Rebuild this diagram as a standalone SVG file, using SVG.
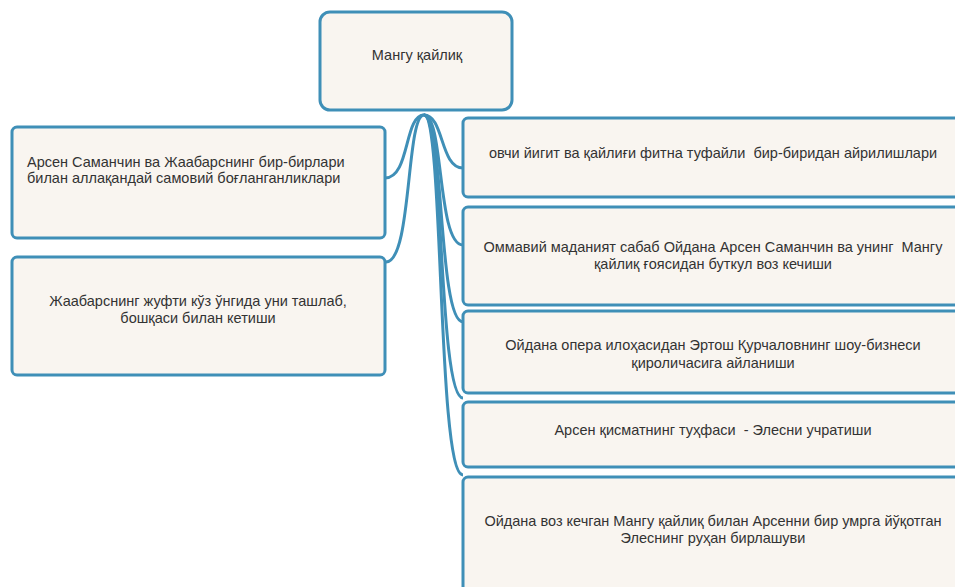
<svg xmlns="http://www.w3.org/2000/svg" width="955" height="587" viewBox="0 0 955 587">
<style>
.box{fill:#f9f5f0;stroke:#3f8fb7;stroke-width:3}
.c{fill:none;stroke:#3f8fb7;stroke-width:3}
text{font-family:"Liberation Sans",Arial,sans-serif;font-size:14.5px;fill:#333;white-space:pre}
.m{text-anchor:middle}
</style>
<rect width="955" height="587" fill="#fff"/>
<g id="connectors">
<path class="c" d="M424,115 C404,115 410,178 385,178"/>
<path class="c" d="M424,115 C406,115 412,262 386,262"/>
<path class="c" d="M424,115 C444,115 440,168 463,168"/>
<path class="c" d="M424,115 C444,115 437,245 463,245"/>
<path class="c" d="M424,115 C444,115 438,322 463,322"/>
<path class="c" d="M424,115 C444,115 438,398 463,398"/>
<path class="c" d="M424,115 C444,115 437,475 463,475"/>
</g>
<g id="root">
<rect class="box" x="320" y="12" width="192" height="98" rx="10"/>
<text class="m" x="417" y="60">Мангу қайлиқ</text>
</g>
<g id="left1">
<rect class="box" x="12" y="127" width="373" height="111" rx="5"/>
<text x="27" y="167">Арсен Саманчин ва Жаабарснинг бир-бирлари</text>
<text x="27" y="183">билан аллақандай самовий боғланганликлари</text>
</g>
<g id="left2">
<rect class="box" x="12" y="257" width="373" height="118" rx="5"/>
<text class="m" x="198" y="306">Жаабарснинг жуфти кўз ўнгида уни ташлаб,</text>
<text class="m" x="198" y="323">бошқаси билан кетиши</text>
</g>
<g id="right1">
<rect class="box" x="463" y="118" width="500" height="79" rx="5"/>
<text class="m" x="713" y="158" xml:space="preserve">овчи йигит ва қайлиғи фитна туфайли  бир-биридан айрилишлари</text>
</g>
<g id="right2">
<rect class="box" x="463" y="207" width="500" height="98" rx="5"/>
<text class="m" x="713" y="252" xml:space="preserve">Оммавий маданият сабаб Ойдана Арсен Саманчин ва унинг  Мангу</text>
<text class="m" x="713" y="269">қайлиқ ғоясидан буткул воз кечиши</text>
</g>
<g id="right3">
<rect class="box" x="463" y="311" width="500" height="82" rx="5"/>
<text class="m" x="713" y="350">Ойдана опера илоҳасидан Эртош Қурчаловнинг шоу-бизнеси</text>
<text class="m" x="713" y="368">қироличасига айланиши</text>
</g>
<g id="right4">
<rect class="box" x="463" y="402" width="500" height="65" rx="5"/>
<text class="m" x="713" y="435" xml:space="preserve">Арсен қисматнинг туҳфаси  - Элесни учратиши</text>
</g>
<g id="right5">
<rect class="box" x="463" y="477" width="500" height="130" rx="5"/>
<text class="m" x="713" y="526">Ойдана воз кечган Мангу қайлиқ билан Арсенни бир умрга йўқотган</text>
<text class="m" x="713" y="543">Элеснинг руҳан бирлашуви</text>
</g>
</svg>
